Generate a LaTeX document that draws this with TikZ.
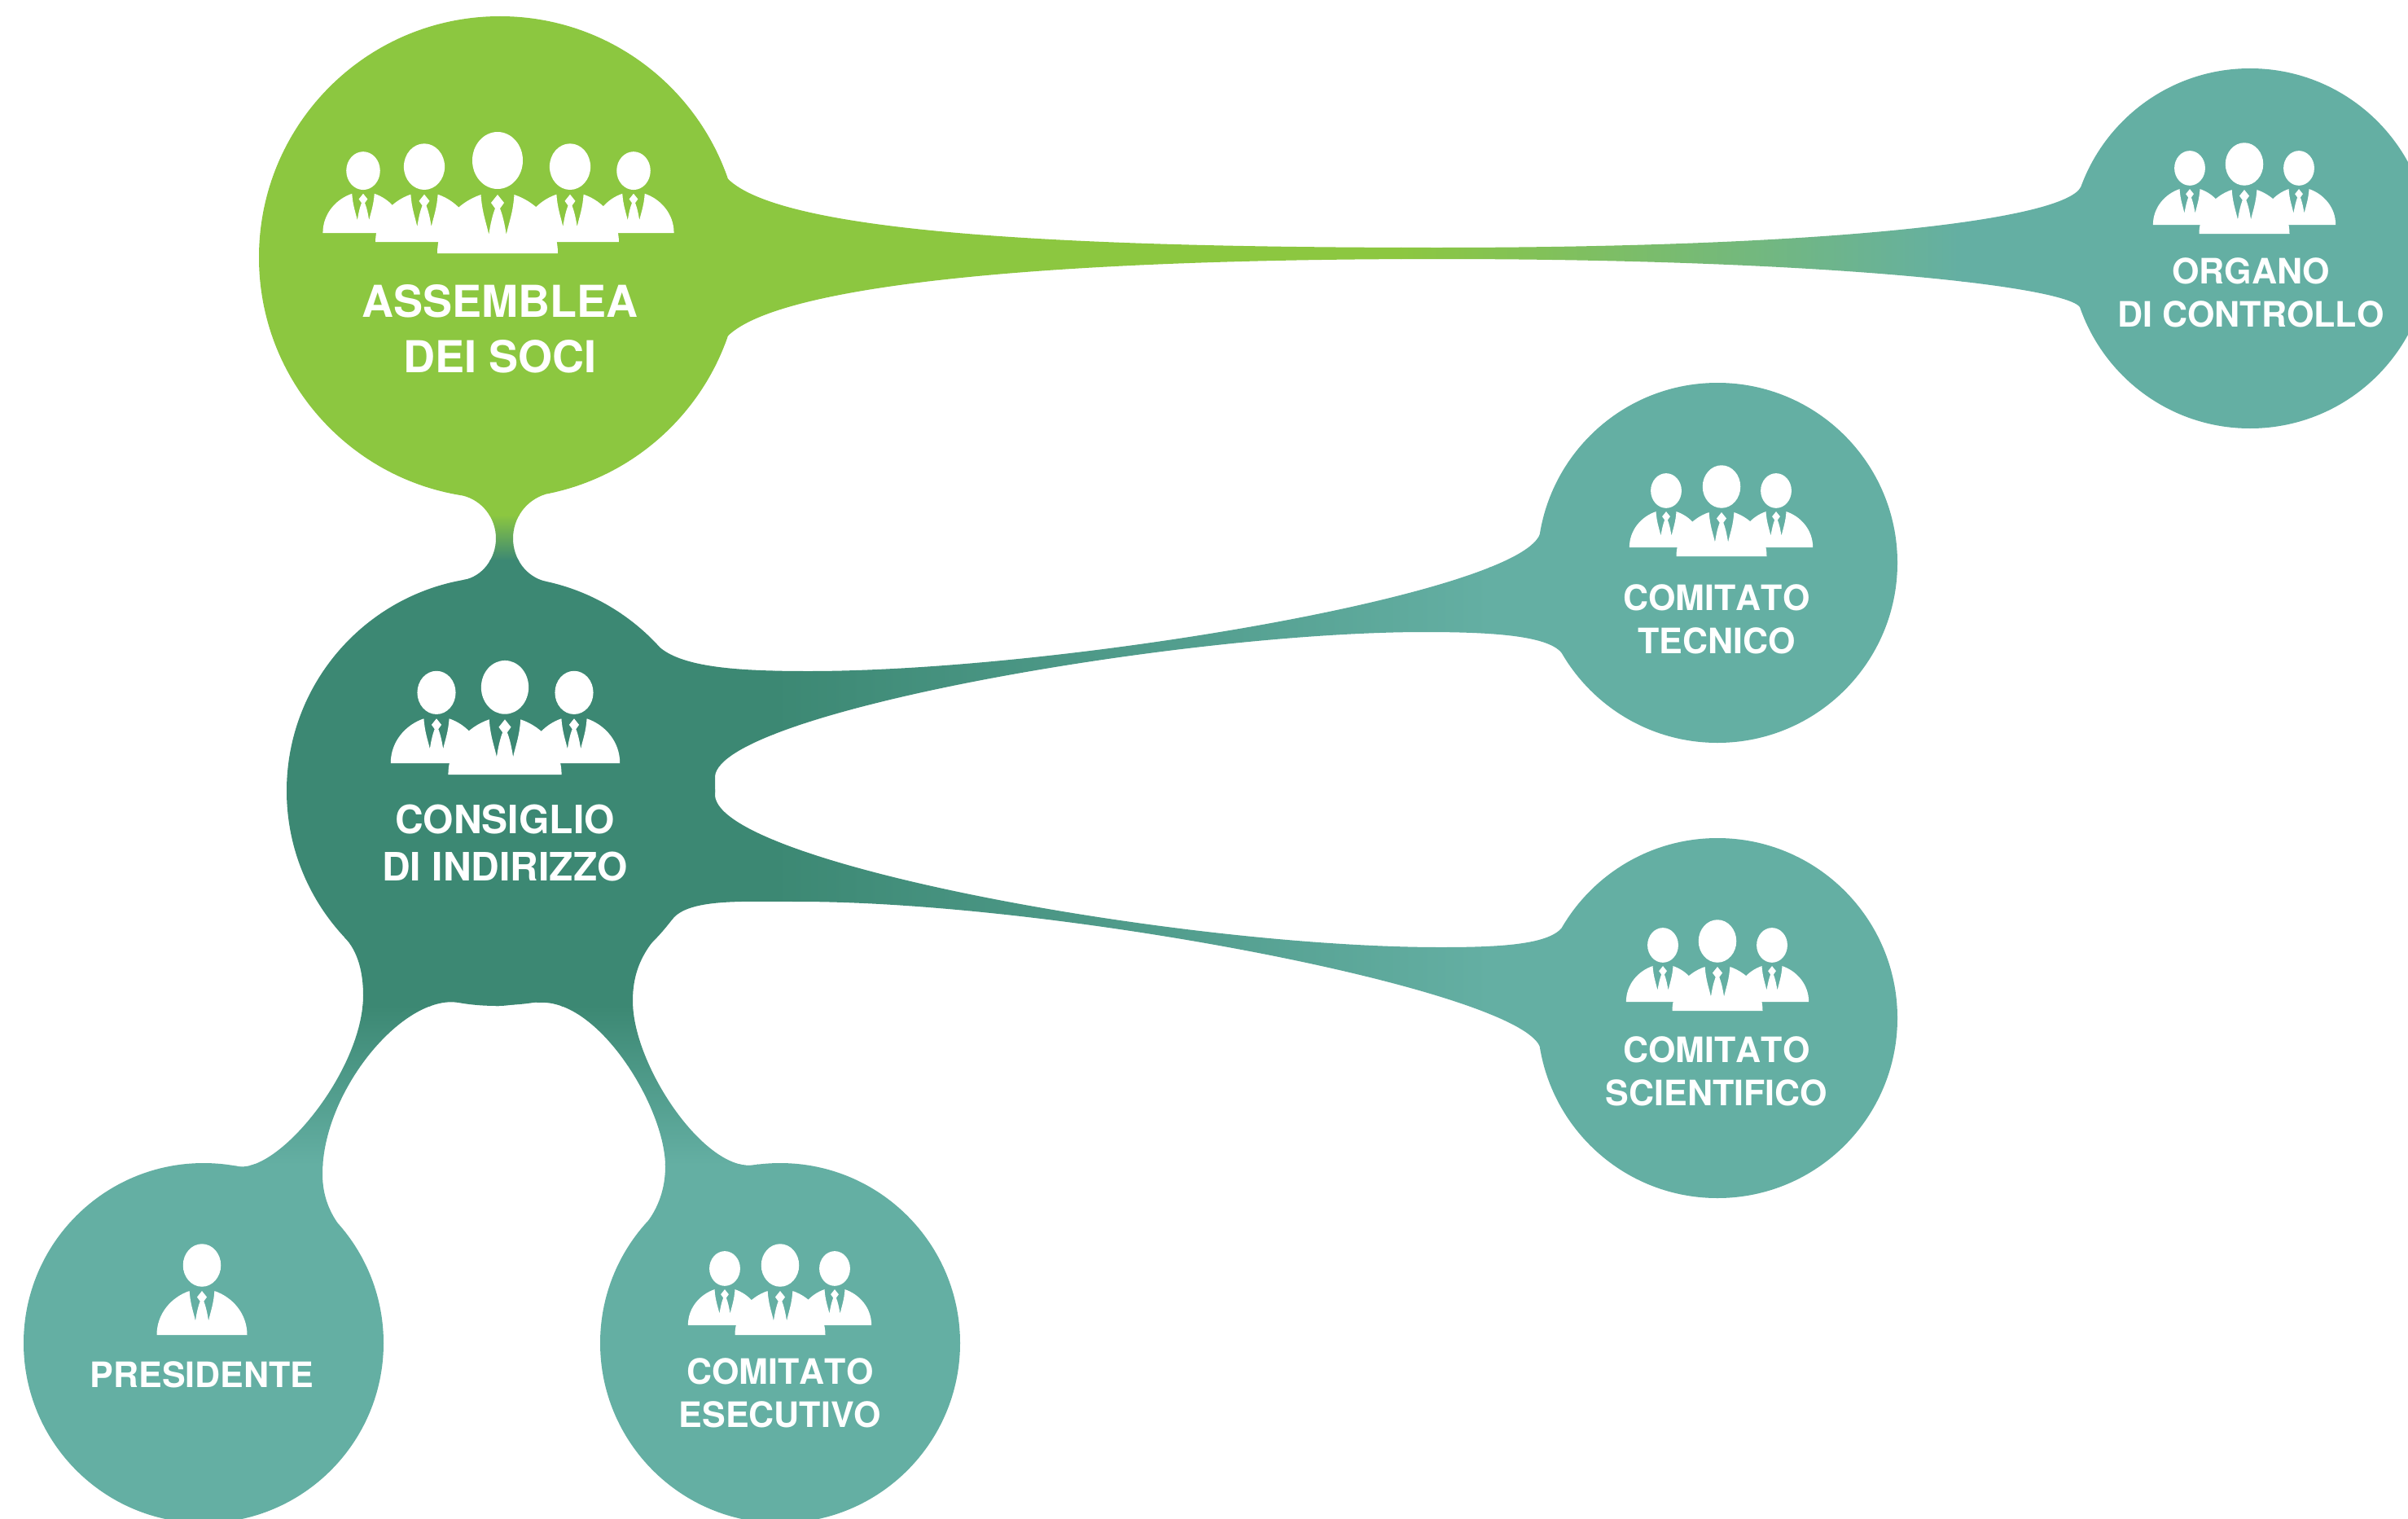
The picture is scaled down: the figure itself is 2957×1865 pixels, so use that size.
\documentclass[tikz,border=0pt]{standalone}
\usepackage{fontspec}
\setmainfont[Kerning=Off]{TeX Gyre Heros}
\definecolor{leaf}{HTML}{8CC740}
\definecolor{deep}{HTML}{3C8873}
\definecolor{soft}{HTML}{64AFA3}
\pgfdeclarelayer{bg}
\pgfsetlayers{bg,main}
\tikzset{
  x=1pt,y=-1pt,
  blob/.style={circle,inner sep=0pt,outer sep=0pt,minimum size=#1},
  big/.style={blob=526pt,fill=deep},
  small/.style={blob=442pt,fill=soft},
  tag/.style={text=white,align=center,inner sep=0pt,font=\bfseries\fontsize{43}{53}\selectfont},
  person/.pic={
    \fill[white] (0,-114) ellipse [x radius=31,y radius=35];
    \fill[white] (-74,0) .. controls (-74,-35) and (-50,-62) .. (-20.5,-72)
      .. controls (-19,-50) and (-14,-38) .. (-10.7,-23)
      .. controls (-9,-35) and (-6,-48) .. (-3,-55) -- (-8,-62) -- (0,-72) -- (8,-62) -- (3,-55)
      .. controls (6,-48) and (9,-35) .. (10.7,-23)
      .. controls (14,-38) and (19,-50) .. (20.5,-72)
      .. controls (50,-62) and (74,-35) .. (74,0) -- cycle;
  }
}
\newcommand{\gradh}[5]{%
  \begin{scope}
    \clip #1;
    \fill[#4] (-10,-10) rectangle (#2+1,1900);
    \fill[#5] (#3-1,-10) rectangle (3000,1900);
    \shade[left color=#4,right color=#5] (#2,-10) rectangle (#3,1900);
  \end{scope}}
\newcommand{\gradv}[5]{%
  \begin{scope}
    \clip #1;
    \fill[#4] (-10,-10) rectangle (3000,#2+1);
    \fill[#5] (-10,#3-1) rectangle (3000,1900);
    \shade[top color=#4,bottom color=#5] (-10,#2) rectangle (3000,#3);
  \end{scope}}
\begin{document}
\begin{tikzpicture}
\useasboundingbox (0,0) rectangle (2957,1865);

% circles
\node[blob=592pt,fill=leaf] (assemblea) at (614,316) {};
\node[big] (consiglio) at (615,971) {};
\node[small] (organo) at (2763,305) {};
\node[small] (tecnico) at (2109,691) {};
\node[small] (scientifico) at (2109,1250) {};
\node[small] (presidente) at (250,1649) {};
\node[small] (esecutivo) at (958,1649) {};

\begin{pgfonlayer}{bg}
\fill[white] (0,0) rectangle (2957,1865);
% assemblea -> organo
\gradh{(assemblea.19.2)
  .. controls (960,285) and (1300,304) .. (1765,304)
  .. controls (2250,304) and (2535,270) .. (organo.160.2)
  -- (organo.199.8)
  .. controls (2535,352) and (2250,318) .. (1765,318)
  .. controls (1300,318) and (960,348) .. (assemblea.-19.3) -- cycle}{1720}{2410}{leaf}{soft}
% assemblea -> consiglio
\gradv{(assemblea.261.1)
  .. controls (592,614) and (609,636) .. (609,661)
  .. controls (609,686) and (592,708) .. (consiglio.100)
  -- (consiglio.78.6)
  .. controls (646,708) and (630,686) .. (630,661)
  .. controls (630,636) and (646,614) .. (assemblea.-79.2) -- cycle}{632}{688}{leaf}{deep}
% consiglio -> tecnico
\gradh{(consiglio.42)
  .. controls (840,820) and (910,824) .. (993,824)
  .. controls (1300,824) and (1860,730) .. (tecnico.171.2)
  -- (tecnico.210.2)
  .. controls (1900,780) and (1830,776) .. (1749,776)
  .. controls (1450,776) and (885,875) .. (878,953)
  -- (878,965) -- (consiglio.center) -- cycle}{950}{1830}{deep}{soft}
% consiglio -> scientifico
\gradh{(consiglio.-37.9)
  .. controls (845,1103) and (910,1107) .. (980,1107)
  .. controls (1300,1107) and (1860,1215) .. (scientifico.189.1)
  -- (scientifico.150)
  .. controls (1900,1160) and (1840,1163) .. (1769,1163)
  .. controls (1450,1163) and (885,1060) .. (878,977)
  -- (878,965) -- (consiglio.center) -- cycle}{950}{1830}{deep}{soft}
% consiglio -> presidente, esecutivo
\gradv{(consiglio.223.5)
  .. controls (440,1168) and (446,1195) .. (446,1222)
  .. controls (446,1315) and (338,1446) .. (presidente.80.4)
  -- (presidente.42.8)
  .. controls (400,1480) and (396,1460) .. (396,1441)
  .. controls (396,1340) and (495,1220) .. (563,1231)
  .. controls (580,1234) and (595,1235) .. (612,1235)
  .. controls (630,1235) and (645,1229) .. (662,1231)
  .. controls (735,1226) and (817,1360) .. (817,1432)
  .. controls (817,1460) and (808,1482) .. (esecutivo.137.4)
  -- (esecutivo.97.5)
  .. controls (870,1446) and (777,1310) .. (777,1229)
  .. controls (777,1185) and (795,1160) .. (consiglio.-37.9) -- cycle}{1235}{1430}{deep}{soft}
\end{pgfonlayer}

% icons
\foreach \x/\y/\s in {446/286/.67,778/286/.67,521/297/.81,700/297/.81,611/311/1,
  536/937/.76,705/937/.76,620/951/.94,
  2689/276/.61,2823/276/.61,2756/287/.75,
  2046/672/.61,2181/672/.61,2114/683/.75,
  2042/1230/.61,2176/1230/.61,2109/1241/.75,
  248/1639/.75,
  890/1627/.61,1025/1627/.61,958/1639/.75}
  \pic[scale=\s] at (\x,\y) {person};

% labels
\node[tag,font=\bfseries\fontsize{54}{68}\selectfont] (assembleaText) at (614,404) {ASSEMBLEA\\DEI SOCI};
\node[tag,font=\bfseries\fontsize{48}{58.6}\selectfont] (consiglioText) at (620,1035) {CONSIGLIO\\DI INDIRIZZO};
\node[tag] (organoText) at (2764,359) {ORGANO\\DI CONTROLLO};
\node[tag] (tecnicoText) at (2108,760) {COMITATO\\TECNICO};
\node[tag] (scientificoText) at (2108,1315) {COMITATO\\SCIENTIFICO};
\node[tag] (presidenteText) at (248,1688) {PRESIDENTE};
\node[tag] (esecutivoText) at (958,1710) {COMITATO\\ESECUTIVO};
\end{tikzpicture}
\end{document}
